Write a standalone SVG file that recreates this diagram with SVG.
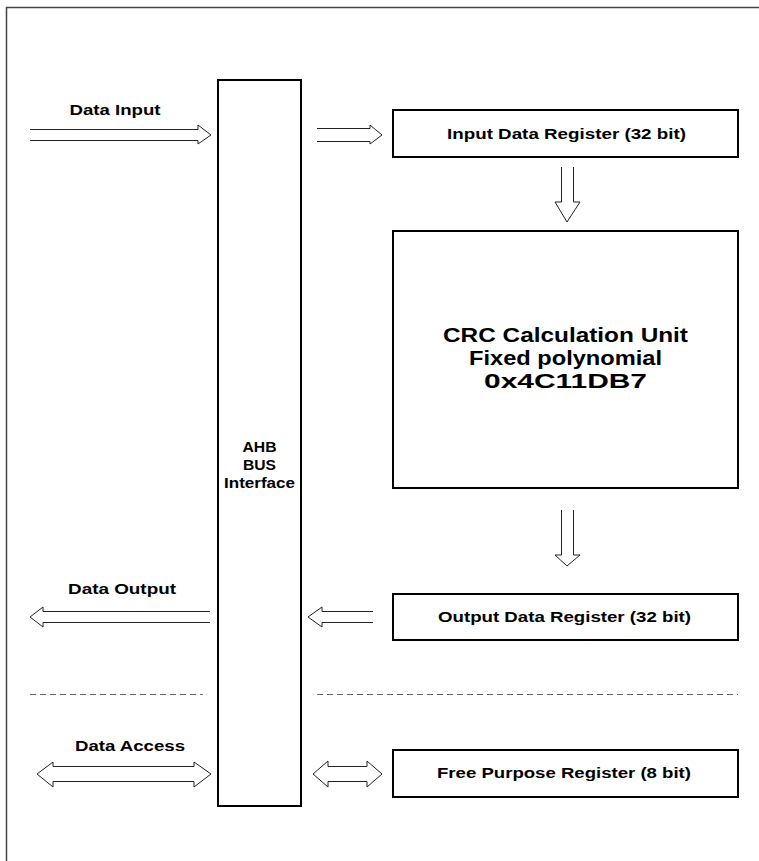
<svg xmlns="http://www.w3.org/2000/svg" width="759" height="861" viewBox="0 0 759 861">
<style>
.box{fill:#fff;stroke:#000;stroke-width:2}
.arr{fill:#fff;stroke:#222;stroke-width:1}
.t{font-family:"Liberation Sans",Arial,sans-serif;font-weight:bold;font-size:14.5px;fill:#000;text-anchor:middle}
.big{font-size:20px}
.dash{stroke:#666;stroke-width:1;stroke-dasharray:6,4;fill:none}
</style>
<rect x="0" y="0" width="759" height="861" fill="#fff"/>
<path d="M6.5,861 V7.5 H759" fill="none" stroke="#444" stroke-width="1.5"/>
<g id="ahb"><rect class="box" x="218" y="80" width="83" height="726"/>
<text class="t" x="259.5" y="452" textLength="34" lengthAdjust="spacingAndGlyphs">AHB</text><text class="t" x="259.5" y="470" textLength="33" lengthAdjust="spacingAndGlyphs">BUS</text><text class="t" x="259.5" y="488" textLength="71" lengthAdjust="spacingAndGlyphs">Interface</text></g>
<g id="idr"><rect class="box" x="393" y="110" width="345" height="47"/><text class="t" x="566.5" y="139" textLength="239" lengthAdjust="spacingAndGlyphs">Input Data Register (32 bit)</text></g>
<g id="crc"><rect class="box" x="393" y="231" width="345" height="257"/>
<text class="t big" x="565.5" y="342" textLength="245" lengthAdjust="spacingAndGlyphs">CRC Calculation Unit</text><text class="t big" x="565.5" y="365" textLength="193" lengthAdjust="spacingAndGlyphs">Fixed polynomial</text><text class="t big" x="565.5" y="388" textLength="163" lengthAdjust="spacingAndGlyphs">0x4C11DB7</text></g>
<g id="odr"><rect class="box" x="393" y="594" width="345" height="46"/><text class="t" x="564.5" y="622" textLength="253" lengthAdjust="spacingAndGlyphs">Output Data Register (32 bit)</text></g>
<g id="fpr"><rect class="box" x="393" y="750" width="345" height="47"/><text class="t" x="564" y="778" textLength="254" lengthAdjust="spacingAndGlyphs">Free Purpose Register (8 bit)</text></g>
<g id="connectors">
<path class="arr" d="M30,129.5 H198 V125 L211,135 L198,144 V140.5 H30"/>
<path class="arr" d="M317,128.5 H370 V125 L382,135 L370,144 V141.5 H317"/>
<path class="arr" d="M561.5,167 V202 H555 L567,222 L580,202 H573.5 V167"/>
<path class="arr" d="M561.5,510 V555 H555 L567,566 L580,555 H573.5 V510"/>
<path class="arr" d="M210,611.5 H43 V607 L30,617 L43,627 V622.5 H210"/>
<path class="arr" d="M373,611.5 H322 V607 L308,617 L322,627 V622.5 H373"/>
<path class="arr" d="M53,766.5 H194 V762 L211,774 L194,787 V781.5 H53 V787 L37,774 L53,762 Z"/>
<path class="arr" d="M328,766.5 H367 V761 L382,774 L367,787 V781.5 H328 V787 L313,774 L328,761 Z"/>
<line class="dash" x1="30" y1="694.5" x2="203" y2="694.5"/>
<line class="dash" x1="317" y1="694.5" x2="738" y2="694.5"/>
</g>
<text class="t" x="115" y="115" textLength="91" lengthAdjust="spacingAndGlyphs">Data Input</text>
<text class="t" x="122" y="594" textLength="108" lengthAdjust="spacingAndGlyphs">Data Output</text>
<text class="t" x="130" y="751" textLength="110" lengthAdjust="spacingAndGlyphs">Data Access</text>
</svg>
